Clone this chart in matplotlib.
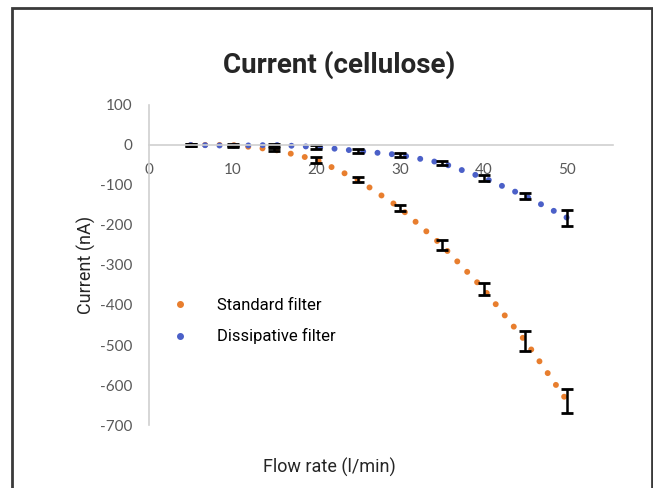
import numpy as np
import matplotlib.pyplot as plt
from matplotlib.patches import Rectangle

plt.rcParams['axes.unicode_minus'] = False

# data
flow = [5, 10, 15, 20, 25, 30, 35, 40, 45, 50]
standard = [0, 0, -12, -37, -87, -157, -250, -360, -490, -640]
standard_err = [3, 3, 4, 8, 6, 7, 13, 15, 25, 30]
dissipative = [0, -2, 0, -5, -15, -25, -45, -82, -128, -182]
dissipative_err = [3, 3, 3, 4, 4, 5, 6, 7, 8, 20]

orange = '#E87E2E'
blue = '#4B60C8'
grey = '#595959'

fig = plt.figure(figsize=(6.53, 4.88), dpi=100)
ax = fig.add_axes([0.228, 0.129, 0.711, 0.656])

dot = (0, (0.01, 2.4))
ax.plot(flow, standard, color=orange, lw=4.3, linestyle=dot,
        dash_capstyle='round')
ax.plot(flow, dissipative, color=blue, lw=4.3, linestyle=dot,
        dash_capstyle='round')
ax.errorbar(flow, standard, yerr=standard_err, fmt='none', ecolor='black',
            elinewidth=1.8, capsize=4, capthick=2)
ax.errorbar(flow, dissipative, yerr=dissipative_err, fmt='none', ecolor='black',
            elinewidth=1.8, capsize=4, capthick=2)

ax.set_xlim(0, 55.5)
ax.set_ylim(-700, 100)
ax.set_xticks([0, 10, 20, 30, 40, 50])
ax.set_yticks(np.arange(-700, 101, 100))

# x axis crosses at y = 0
ax.spines['bottom'].set_position(('data', 0))
ax.spines['top'].set_visible(False)
ax.spines['right'].set_visible(False)
for s in ['bottom', 'left']:
    ax.spines[s].set_color('#D0D0D0')
    ax.spines[s].set_linewidth(1.2)
ax.tick_params(length=0, labelsize=11, labelcolor=grey)
ax.tick_params(axis='x', pad=13)
ax.tick_params(axis='y', pad=12)
for t in ax.get_xticklabels() + ax.get_yticklabels():
    t.set_family('Lato')

narrow = ['Roboto', 'DejaVu Sans']
fig.text(0.52, 0.866, 'Current (cellulose)', ha='center', va='center',
         fontsize=20, fontweight='bold', family=narrow, color='#262626')
fig.text(0.133, 0.457, 'Current (nA)', ha='center', va='center', rotation=90,
         fontsize=13, family=narrow, color='#262626')
fig.text(0.505, 0.043, 'Flow rate (l/min)', ha='center', va='center',
         fontsize=13, family=narrow, color='#262626')

# legend shows only a small dot for each series
h1, = ax.plot([], [], 'o', color=orange, ms=4)
h2, = ax.plot([], [], 'o', color=blue, ms=4)
ax.legend([h1, h2], ['Standard filter', 'Dissipative filter'],
          loc='upper left', bbox_to_anchor=(-0.005, 0.445), frameon=False,
          prop={'family': narrow, 'size': 12}, handlelength=2.2,
          handletextpad=1.1, labelspacing=0.95)

# frame around the figure
fig.patches.append(Rectangle((0.018, -0.02), 0.98, 1.004, transform=fig.transFigure,
                             fill=False, edgecolor='#3A3A3A', lw=2))

fig.savefig('out.png', dpi=100)
